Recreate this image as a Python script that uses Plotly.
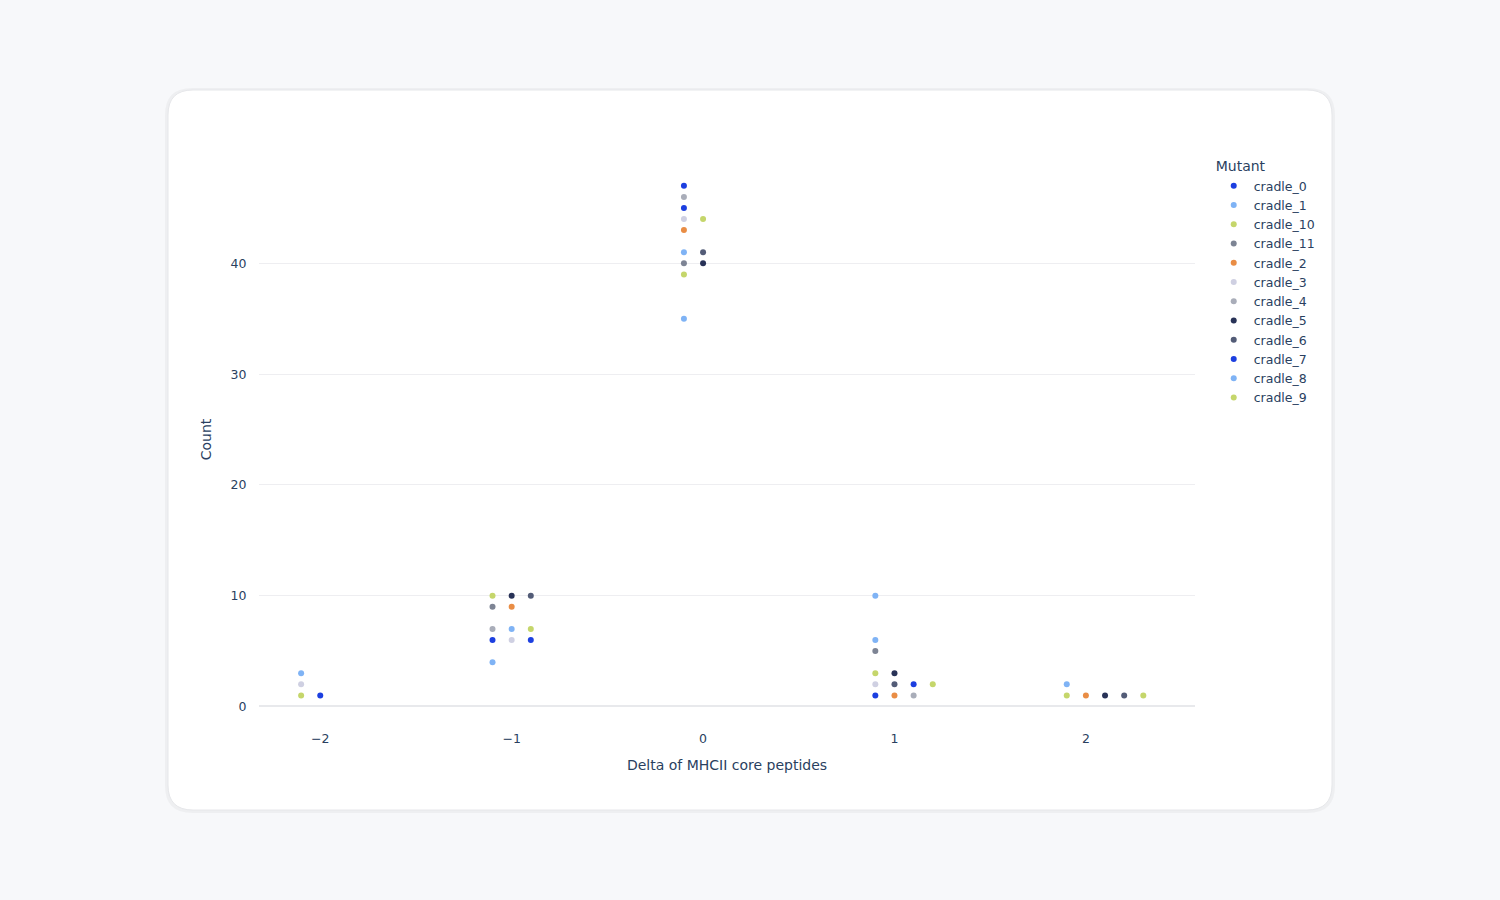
import plotly.graph_objects as go

# counts of MHCII core peptide deltas per mutant
mutants = ['cradle_0', 'cradle_1', 'cradle_10', 'cradle_11', 'cradle_2', 'cradle_3',
           'cradle_4', 'cradle_5', 'cradle_6', 'cradle_7', 'cradle_8', 'cradle_9']

deltas = {
    'cradle_0': [-1, 0, 1],
    'cradle_1': [-2, -1, 0, 1],
    'cradle_10': [-2, -1, 0, 1, 2],
    'cradle_11': [-1, 0, 1],
    'cradle_2': [-1, 0, 1, 2],
    'cradle_3': [-2, -1, 0, 1],
    'cradle_4': [-1, 0, 1],
    'cradle_5': [-1, 0, 1, 2],
    'cradle_6': [-1, 0, 1, 2],
    'cradle_7': [-2, -1, 0, 1],
    'cradle_8': [-1, 0, 1, 2],
    'cradle_9': [-1, 0, 1, 2],
}

counts = {
    'cradle_0': [6, 47, 1],
    'cradle_1': [3, 4, 41, 10],
    'cradle_10': [1, 10, 39, 3, 1],
    'cradle_11': [9, 40, 5],
    'cradle_2': [9, 43, 1, 1],
    'cradle_3': [2, 6, 44, 2],
    'cradle_4': [7, 46, 1],
    'cradle_5': [10, 40, 3, 1],
    'cradle_6': [10, 41, 2, 1],
    'cradle_7': [1, 6, 45, 2],
    'cradle_8': [7, 35, 6, 2],
    'cradle_9': [7, 44, 2, 1],
}

colors = ['#1c3fe0', '#7fb3f5', '#c5d66b', '#7d8494', '#e98d45', '#cfd0e2',
          '#a9adb9', '#283257', '#535c77', '#1c3fe0', '#7fb3f5', '#c5d66b']

# dodge points that share the same (delta, count)
seen = {}
fig = go.Figure()
for name, col in zip(mutants, colors):
    xs = []
    for d, c in zip(deltas[name], counts[name]):
        k = seen.get((d, c), 0)
        seen[(d, c)] = k + 1
        xs.append(d - 0.1 + 0.1 * k)
    fig.add_trace(go.Scatter(x=xs, y=counts[name], mode='markers', name=name,
                             marker=dict(color=col, size=6)))

# card behind the plot (pixel coords -> paper coords)
L, R, T, B = 259, 305, 157, 178
W, H = 1500, 900
pw, ph = W - L - R, H - T - B


def px(x):
    return (x - L) / pw


def py(y):
    return (H - B - y) / ph


def card(x0, y0, x1, y1, r):
    return (f'M {px(x0 + r)},{py(y0)} L {px(x1 - r)},{py(y0)} '
            f'Q {px(x1)},{py(y0)} {px(x1)},{py(y0 + r)} '
            f'L {px(x1)},{py(y1 - r)} Q {px(x1)},{py(y1)} {px(x1 - r)},{py(y1)} '
            f'L {px(x0 + r)},{py(y1)} Q {px(x0)},{py(y1)} {px(x0)},{py(y1 - r)} '
            f'L {px(x0)},{py(y0 + r)} Q {px(x0)},{py(y0)} {px(x0 + r)},{py(y0)} Z')


fig.add_shape(type='path', path=card(165, 88, 1335, 813, 27), xref='paper', yref='paper',
              fillcolor='rgba(0,0,0,0.035)', line=dict(width=0), layer='below')
fig.add_shape(type='path', path=card(168, 90, 1332, 810, 25), xref='paper', yref='paper',
              fillcolor='white', line=dict(color='#e6e7ea', width=1), layer='below')

fig.update_xaxes(range=[-2.32, 2.57], title_text='Delta of MHCII core peptides',
                 tickvals=[-2, -1, 0, 1, 2], showgrid=False, zeroline=False,
                 ticks='outside', ticklen=5, tickcolor='rgba(0,0,0,0)',
                 title_font=dict(size=14), tickfont=dict(size=12.5))
fig.update_yaxes(range=[-1.4, 49.6], title_text='Count', tickvals=[0, 10, 20, 30, 40],
                 gridcolor='#eeeef1', zeroline=True, zerolinecolor='#e8e9ec', zerolinewidth=1.5,
                 ticks='outside', ticklen=9, tickcolor='rgba(0,0,0,0)',
                 title_font=dict(size=14), tickfont=dict(size=12.5))

fig.update_layout(
    width=W, height=H,
    margin=dict(l=L, r=R, t=T, b=B),
    paper_bgcolor='#f7f8fa', plot_bgcolor='white',
    font=dict(family='Verdana, DejaVu Sans, sans-serif', color='#2a3f5f'),
    legend=dict(title=dict(text='Mutant', font=dict(size=14)), font=dict(size=12.5),
                x=1.02, y=1.007, xanchor='left', yanchor='top', bgcolor='rgba(0,0,0,0)'),
)

fig.write_html("out.html", config={'displayModeBar': False},
               post_script="document.body.style.margin='0';")
